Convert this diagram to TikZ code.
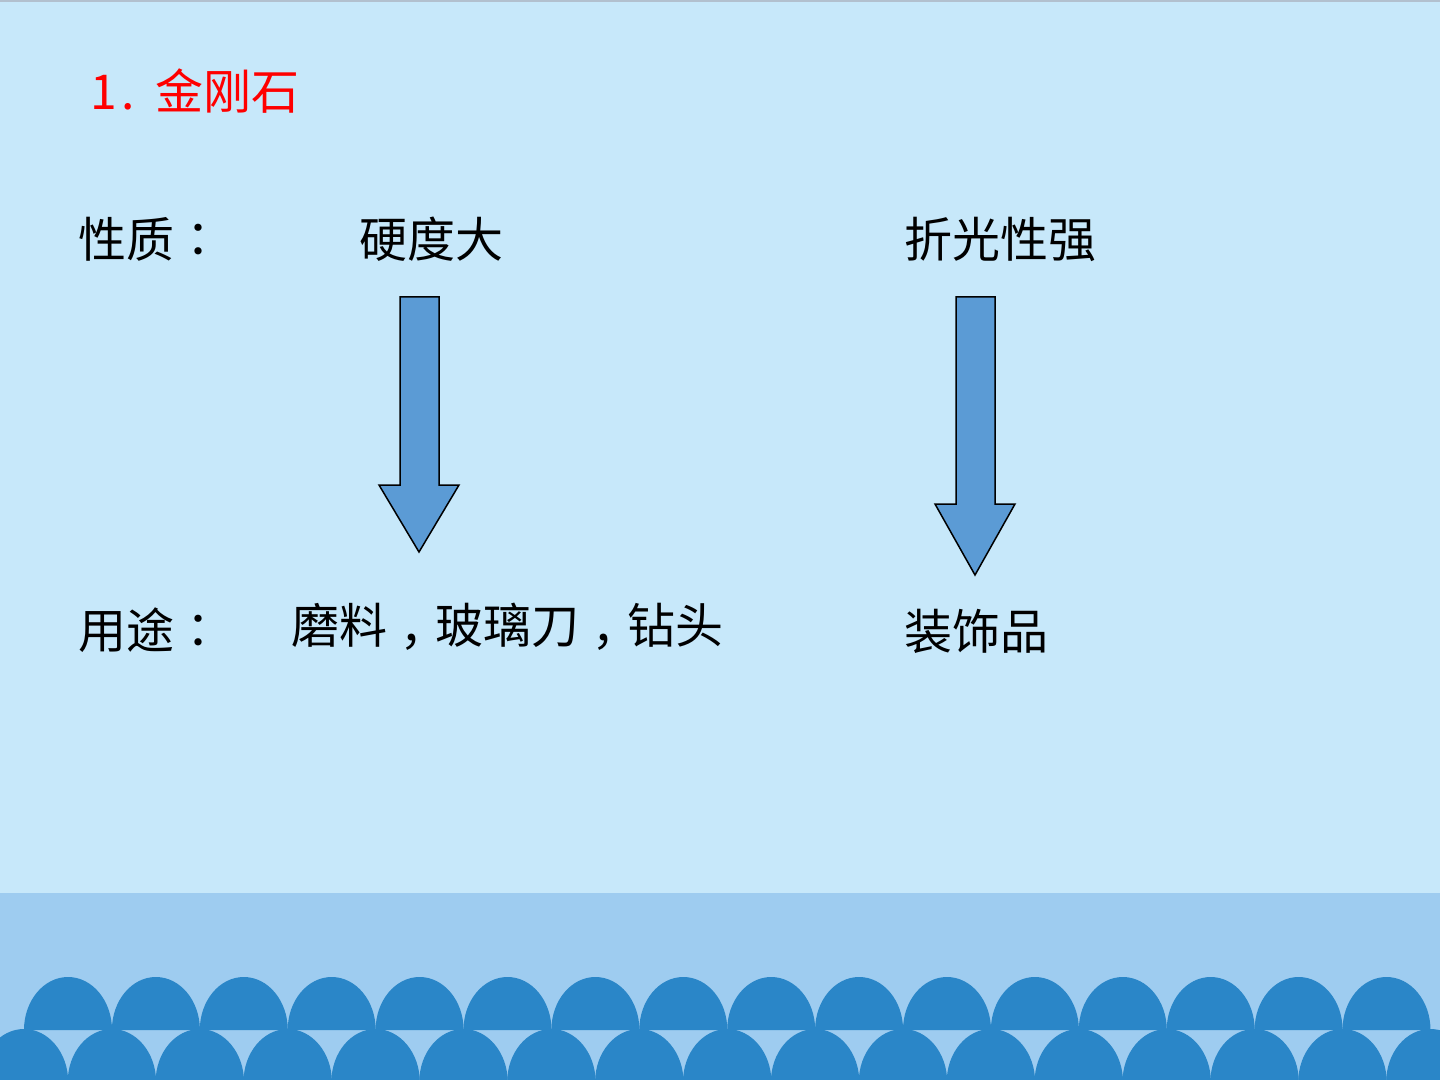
\documentclass[tikz,border=0pt]{standalone}
\usepackage{fontspec}
\setmainfont{Noto Sans CJK SC}
\newfontfamily\cjkpunct{Noto Sans CJK TC}
\newcommand{\pcolon}{{\cjkpunct ：}}
\newcommand{\pcomma}{\raisebox{-8pt}[0pt][0pt]{\cjkpunct ，}}
\definecolor{bgtop}{RGB}{199,232,250}
\definecolor{band}{RGB}{158,204,240}
\definecolor{dome}{RGB}{42,134,200}
\definecolor{arrowfill}{RGB}{91,155,213}
\definecolor{topline}{RGB}{178,192,206}
\tikzset{
  txt/.style={anchor=west, inner sep=0pt, font=\fontsize{24pt}{29pt}\selectfont, text=black},
  ttl/.style={txt, text=red},
  bigarrow/.style={fill=arrowfill, draw=black, line width=0.75pt, line join=miter},
  domefill/.style={fill=dome, draw=none}
}
\begin{document}
\begin{tikzpicture}[x=0.5pt,y=-0.5pt]
\useasboundingbox (0,0) rectangle (1440,1080);
% background
\fill[bgtop] (0,0) rectangle (1440,1080);
\fill[topline] (0,0) rectangle (1440,2);
\fill[band] (0,893) rectangle (1440,1080);
% upper row of domes
\foreach \k in {0,...,15}{
  \fill[domefill] ({68+87.9*\k-44},1030) arc[start angle=180, end angle=0, x radius=44, y radius=-53] -- cycle;
}
% lower row of domes
\foreach \k in {0,...,16}{
  \fill[domefill] ({24+87.9*\k-44.2},1082) arc[start angle=180, end angle=0, x radius=44.2, y radius=-53] -- cycle;
}
% texts
\node[ttl] (title) at (90,91) {1\hspace{2pt}.\hspace{10.5pt}金刚石};
\node[txt] (propL) at (78,239) {性质\pcolon};
\node[txt] (prop1) at (359,239) {硬度大};
\node[txt] (prop2) at (904,239) {折光性强};
\node[txt] (useL) at (78,630) {用途\pcolon};
\node[txt] (use1) at (291,625) {磨料\pcomma 玻璃刀\pcomma 钻头};
\node[txt] (use2) at (904,631) {装饰品};
% arrows
\draw[bigarrow] (400,297) -- (439,297) -- (439,485) -- (459,485) -- (419,552) -- (379,485) -- (400,485) -- cycle;
\draw[bigarrow] (956,297) -- (995,297) -- (995,504) -- (1015,504) -- (975,575) -- (935,504) -- (956,504) -- cycle;
\end{tikzpicture}
\end{document}
